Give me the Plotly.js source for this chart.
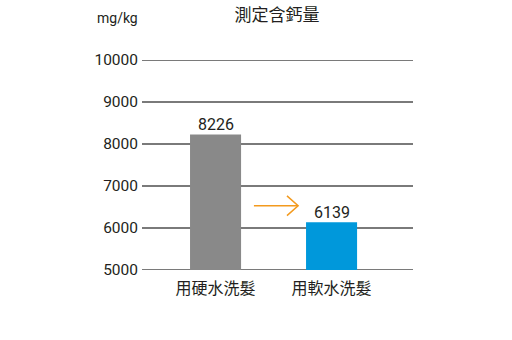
<!DOCTYPE html>
<html><head><meta charset="utf-8">
<script src="https://cdn.plot.ly/plotly-3.0.1.min.js"></script>
<style>html,body{margin:0;padding:0;background:#fff}#c{width:512px;height:340px}</style>
</head><body><div id="c"></div>
<script>
const categories = ['用硬水洗髮', '用軟水洗髮'];
const values = [8226, 6139];
const barColors = ['#898989', '#0098db'];
const yTicks = [5000, 6000, 7000, 8000, 9000, 10000];
const yTickLabels = ['5000', '6000', '7000', '8000', '9000', '10000'];
const chartTitle = '測定含鈣量';
const unitLabel = 'mg/kg';

const txt = '#231f20';
const fontNum = 'Roboto, sans-serif';
const fontCJK = 'Noto Sans CJK TC, Noto Sans CJK SC, sans-serif';

const trace = {
  type: 'bar', x: categories, y: values,
  marker: {color: barColors, line: {width: 0}},
  width: 0.44, hoverinfo: 'none'
};
const orange = '#f39a1e';
const gridShapes = yTicks.map(v => ({type: 'line', layer: 'below', xref: 'paper', x0: 0, x1: 1, yref: 'y', y0: v, y1: v,
  line: {color: '#7a7a7a', width: 2}}));
const valueLabels = categories.map((c, i) => ({x: c, y: values[i], xref: 'x', yref: 'y', text: String(values[i]),
  showarrow: false, xanchor: 'center', yanchor: 'bottom', yshift: -1.5, font: {family: fontNum, size: 16, color: txt}}));
const layout = {
  width: 512, height: 340,
  margin: {l: 142, r: 99, t: 60, b: 70},
  paper_bgcolor: '#fff', plot_bgcolor: '#fff',
  showlegend: false,
  title: {text: chartTitle, font: {family: fontCJK, size: 17, color: txt}, x: 0.541, xanchor: 'center', y: 0.955, yanchor: 'middle'},
  xaxis: {type: 'category', range: [-0.634, 1.702], showgrid: false, zeroline: false, showline: false,
    ticks: '', tickfont: {family: fontCJK, size: 16, color: txt}, ticklabelstandoff: 7, fixedrange: true},
  yaxis: {range: [5000, 10000], tickvals: yTicks, ticktext: yTickLabels, showgrid: false,
    zeroline: false, showline: false, ticks: '', tickfont: {family: fontNum, size: 15.5, color: txt},
    ticklabelstandoff: 3, fixedrange: true},
  annotations: valueLabels.concat([
    {text: unitLabel, xref: 'paper', yref: 'paper', x: -0.092, y: 1.2, xanchor: 'center', yanchor: 'middle',
     showarrow: false, font: {family: fontNum, size: 14, color: txt}}
  ]),
  shapes: gridShapes.concat([
    {type: 'line', xref: 'paper', yref: 'paper', x0: 0.413, y0: 0.306, x1: 0.576, y1: 0.306, line: {color: orange, width: 1.5}},
    {type: 'path', xref: 'paper', yref: 'paper', path: 'M0.535,0.353 L0.576,0.306 L0.535,0.259', line: {color: orange, width: 1.5}}
  ])
};
Plotly.newPlot('c', [trace], layout, {staticPlot: true, displayModeBar: false});
</script></body></html>
